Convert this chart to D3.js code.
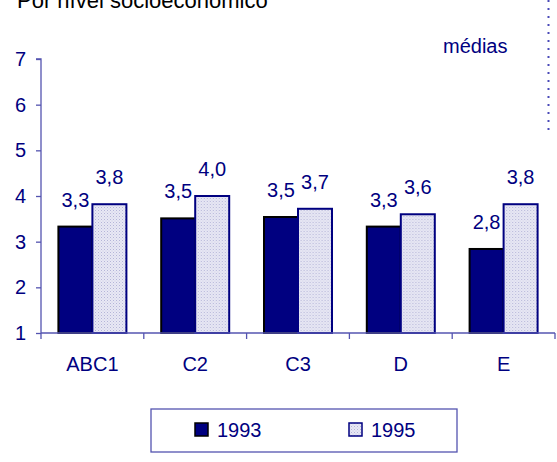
<!DOCTYPE html>
<html>
<head>
<meta charset="utf-8">
<script src="https://cdn.jsdelivr.net/npm/d3@7"></script>
<style>
html,body{margin:0;padding:0;background:#fff;}
svg{display:block;font-family:Arial,"Liberation Sans",sans-serif;}
</style>
</head>
<body>
<svg id="chart" width="557" height="462"></svg>
<script>
const categories = ["ABC1", "C2", "C3", "D", "E"];
const series = ["1993", "1995"];
const values1993 = [3.33, 3.51, 3.54, 3.33, 2.84];
const values1995 = [3.82, 4.0, 3.72, 3.6, 3.82];
const yTicks = [1, 2, 3, 4, 5, 6, 7];
const titleText = "Por nível socioeconômico";
const unitText = "médias";

const svg = d3.select("#chart");
const navy = "#000080";
const axisColor = "#5454b0";
const FS = 20;

const defs = svg.append("defs");
const pat = defs.append("pattern").attr("id", "dots").attr("patternUnits", "userSpaceOnUse")
  .attr("width", 3).attr("height", 3);
pat.append("rect").attr("width", 3).attr("height", 3).attr("fill", "#e8e8f4");
pat.append("rect").attr("x", 0).attr("y", 0).attr("width", 1).attr("height", 1).attr("fill", "#b4b4d8");
pat.append("rect").attr("x", 1.5).attr("y", 1.5).attr("width", 1).attr("height", 1).attr("fill", "#c8c8e4");

const plot = {left: 41, right: 555, top: 59, bottom: 333};

const x = d3.scaleBand().domain(categories).range([plot.left, plot.right]).paddingInner(0).paddingOuter(0);
const xSub = d3.scaleBand().domain(series).range([17.4, 17.4 + 68]);
const y = d3.scaleLinear().domain([1, 7]).range([plot.bottom, plot.top]);

// title (cut at top)
svg.append("text").attr("x", 17).attr("y", 8).attr("font-size", 22).attr("fill", "#000")
  .text(titleText);

// unit label
svg.append("text").attr("x", 443).attr("y", 53).attr("font-size", FS).attr("fill", navy).text(unitText);

// dotted vertical line at right
svg.append("line").attr("x1", 548.5).attr("x2", 548.5).attr("y1", 0).attr("y2", 130)
  .attr("stroke", "#4a4ab8").attr("stroke-width", 2).attr("stroke-dasharray", "2,6");

// bars
const data = categories.map((c, i) => ({cat: c, vals: [
  {s: "1993", v: values1993[i]}, {s: "1995", v: values1995[i]}]}));

const g = svg.append("g");
const groups = g.selectAll("g.grp").data(data).join("g")
  .attr("transform", d => `translate(${x(d.cat)},0)`);

groups.selectAll("rect").data(d => d.vals).join("rect")
  .attr("x", d => xSub(d.s))
  .attr("y", d => y(d.v))
  .attr("width", xSub.bandwidth())
  .attr("height", d => y(1) - y(d.v))
  .attr("fill", d => d.s === "1993" ? navy : "url(#dots)")
  .attr("stroke", d => d.s === "1993" ? "#000" : navy)
  .attr("stroke-width", 2);

const fmt = v => d3.format(".1f")(v).replace(".", ",");
groups.selectAll("text").data(d => d.vals).join("text")
  .attr("x", d => xSub(d.s) + xSub.bandwidth() / 2)
  .attr("y", d => y(d.v) - 20)
  .attr("text-anchor", "middle")
  .attr("font-size", FS)
  .attr("fill", navy)
  .text(d => fmt(d.v));

// y axis
const yAxis = d3.axisLeft(y).tickValues(yTicks).tickSize(5).tickPadding(10).tickFormat(d3.format("d"));
const ya = svg.append("g").attr("transform", `translate(${plot.left},0)`).call(yAxis);
ya.attr("font-size", FS).attr("font-family", null);
ya.select(".domain").attr("stroke", axisColor).attr("stroke-width", 1.3).attr("d", `M-5,${plot.top}H0V${plot.bottom}`);
ya.selectAll(".tick line").attr("stroke", axisColor).attr("stroke-width", 1.3);
ya.selectAll(".tick text").attr("font-size", FS).attr("fill", navy);

// x axis
const xBoundaries = categories.map(c => x(c)).concat([plot.right]);
const xAxisG = svg.append("g");
xAxisG.append("line").attr("x1", plot.left).attr("x2", plot.right)
  .attr("y1", plot.bottom).attr("y2", plot.bottom).attr("stroke", axisColor).attr("stroke-width", 1.3);
xAxisG.selectAll("line.tk").data(xBoundaries).join("line").attr("class", "tk")
  .attr("x1", d => d).attr("x2", d => d).attr("y1", plot.bottom).attr("y2", plot.bottom + 6)
  .attr("stroke", axisColor).attr("stroke-width", 1.3);
xAxisG.selectAll("text").data(categories).join("text")
  .attr("x", d => x(d) + x.bandwidth() / 2)
  .attr("y", 371)
  .attr("text-anchor", "middle")
  .attr("font-size", FS)
  .attr("fill", navy)
  .text(d => d);

// legend
const leg = svg.append("g");
leg.append("rect").attr("x", 151).attr("y", 409).attr("width", 306).attr("height", 43)
  .attr("fill", "#fff").attr("stroke", axisColor).attr("stroke-width", 1.3);
const legItems = [{s: "1993", x: 195, fill: navy, stroke: "#000"}, {s: "1995", x: 349, fill: "url(#dots)", stroke: navy}];
const li = leg.selectAll("g.li").data(legItems).join("g").attr("class", "li");
li.append("rect").attr("x", d => d.x).attr("y", 423).attr("width", 13).attr("height", 13)
  .attr("fill", d => d.fill).attr("stroke", d => d.stroke).attr("stroke-width", 1.5);
li.append("text").attr("x", d => d.x + 22).attr("y", 437).attr("font-size", FS).attr("fill", navy)
  .text(d => d.s);
</script>
</body>
</html>
